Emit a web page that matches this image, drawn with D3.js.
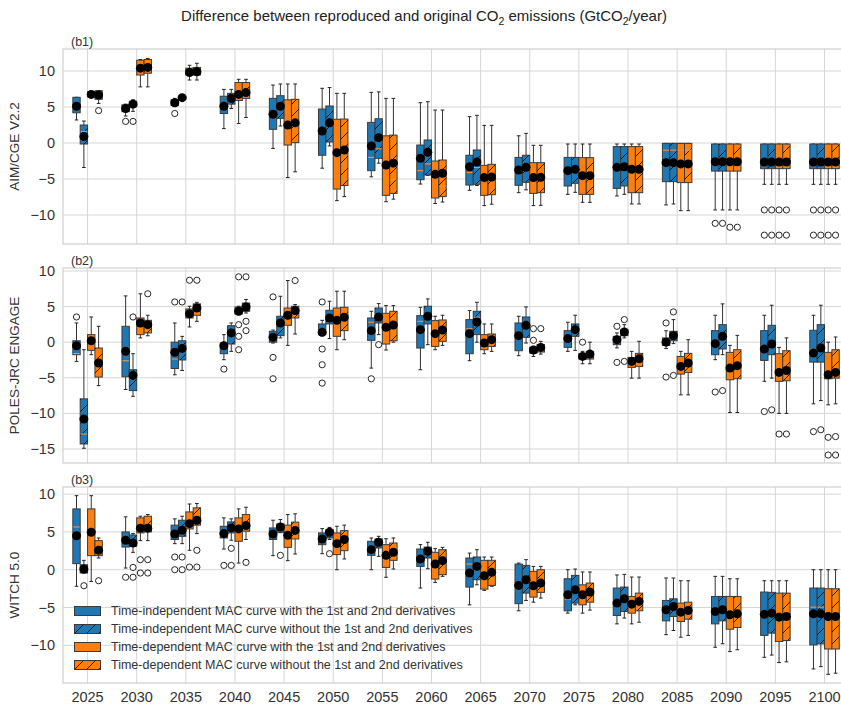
<!DOCTYPE html>
<html><head><meta charset="utf-8">
<script src="https://cdn.jsdelivr.net/npm/d3@7"></script>
<style>body{margin:0;background:#fff}svg{display:block;font-family:"Liberation Sans",Arial,sans-serif}</style>
</head><body><svg id="c" width="841" height="709"></svg>
<script>
// ---------- data ----------
const years = [2025,2030,2035,2040,2045,2050,2055,2060,2065,2070,2075,2080,2085,2090,2095,2100];
const legendLabels = [
  "Time-independent MAC curve with the 1st and 2nd derivatives",
  "Time-independent MAC curve without the 1st and 2nd derivatives",
  "Time-dependent MAC curve with the 1st and 2nd derivatives",
  "Time-dependent MAC curve without the 1st and 2nd derivatives"];
const panelLabels = ["(b1)","(b2)","(b3)"];
const modelNames = ["AIM/CGE V2.2","POLES-JRC ENGAGE","WITCH 5.0"];
const yTicksB1 = [-10,-5,0,5,10];
const yTicksB2 = [-15,-10,-5,0,5,10];
const yTicksB3 = [-10,-5,0,5,10];
// each entry: [whiskerLow, q1, median, q3, whiskerHigh, mean]
const b1_tiWith = [[3.2,4.2,5.3,6.35,6.35,5.1],[3.75,4.35,4.8,5.3,5.4,4.8],[5.1,5.2,5.6,6.0,6.2,5.6],[2.0,4.1,5.2,6.5,7.45,5.1],[-0.75,1.9,4.2,6.2,8.05,4.0],[-3.5,-1.7,1.8,4.72,7.6,1.67],[-4.7,-3.84,-2.0,2.87,7.04,-0.42],[-5.7,-5.1,-3.84,-0.28,5.6,-2.13],[-6.57,-5.84,-4.1,-1.7,3.66,-3.3],[-6.9,-5.88,-3.9,-2.0,1.0,-3.75],[-7.13,-5.97,-3.9,-2.0,-0.14,-3.84],[-7.36,-6.3,-3.4,-0.5,-0.14,-3.38],[-8.6,-5.37,-1.0,-0.05,-0.05,-2.73],[-9.3,-3.9,-2.5,-0.14,-0.14,-2.6],[-5.74,-3.56,-2.6,-0.14,-0.14,-2.64],[-5.74,-3.56,-2.6,-0.14,-0.14,-2.64]];
const b1_tiWithout = [[-3.4,-0.14,1.6,2.5,3.05,0.9],[4.4,5.05,5.4,5.8,6.0,5.4],[6.0,6.1,6.3,6.5,6.6,6.3],[4.8,5.4,6.2,6.9,7.45,6.2],[2.36,3.43,5.0,6.57,8.2,5.1],[-0.4,0.14,2.9,5.14,7.7,2.8],[-2.8,-2.13,-0.8,3.37,7.1,0.74],[-4.5,-4.44,-2.9,0.42,5.74,-1.3],[-5.9,-5.74,-3.4,-0.97,3.84,-2.64],[-6.5,-5.46,-3.5,-1.7,1.34,-3.38],[-6.85,-5.6,-3.7,-2.0,-0.14,-3.66],[-7.13,-5.97,-3.3,-0.5,-0.14,-3.3],[-8.47,-5.37,-1.0,-0.05,-0.05,-2.73],[-9.3,-3.9,-2.5,-0.14,-0.14,-2.6],[-5.74,-3.56,-2.6,-0.14,-0.14,-2.64],[-5.74,-3.56,-2.6,-0.14,-0.14,-2.64]];
const b1_tdWith = [[6.3,6.4,6.8,7.1,7.2,6.75],[7.8,9.45,10.5,11.5,11.6,10.4],[8.75,9.45,9.8,10.4,10.8,9.8],[2.7,5.9,7.0,8.4,8.85,6.75],[-4.8,-0.28,2.5,6.0,8.2,2.5],[-8.0,-6.4,-1.0,3.3,6.9,-1.34],[-8.15,-7.27,-3.0,1.0,6.2,-3.06],[-8.4,-7.64,-4.5,-2.5,4.58,-4.35],[-8.7,-7.27,-4.9,-3.1,2.45,-4.8],[-8.7,-7.0,-4.8,-2.73,-0.32,-4.8],[-8.24,-7.13,-4.5,-2.04,-0.14,-4.54],[-8.47,-6.9,-3.7,-0.5,-0.14,-3.66],[-9.4,-5.5,-1.0,-0.05,-0.05,-2.9],[-9.3,-3.9,-2.5,-0.14,-0.14,-2.6],[-5.74,-3.56,-2.6,-0.14,-0.14,-2.64],[-5.74,-3.56,-2.6,-0.14,-0.14,-2.64]];
const b1_tdWithout = [[5.5,6.07,6.7,7.26,7.3,6.67],[7.8,9.7,10.6,11.6,11.75,10.5],[8.75,9.45,9.9,10.5,11.07,9.9],[3.55,6.2,7.1,8.4,8.85,7.0],[-4.0,0.05,2.8,6.07,8.2,2.8],[-7.45,-5.9,-0.9,3.33,6.9,-0.97],[-7.8,-7.0,-5.1,1.1,6.2,-2.8],[-8.2,-7.45,-6.0,-2.36,4.58,-4.2],[-8.5,-7.18,-4.8,-2.96,2.45,-4.72],[-8.65,-6.9,-4.8,-2.73,-0.32,-4.77],[-8.24,-7.13,-4.5,-2.04,-0.14,-4.54],[-8.47,-6.9,-3.7,-0.5,-0.14,-3.66],[-9.4,-5.5,-1.0,-0.05,-0.05,-2.9],[-9.3,-3.9,-2.5,-0.14,-0.14,-2.6],[-5.74,-3.56,-2.6,-0.14,-0.14,-2.64],[-5.74,-3.56,-2.6,-0.14,-0.14,-2.64]];
const b1_tiWith_out = [[],[3.0],[4.1],[],[],[],[],[],[],[],[],[],[],[-11.16],[-9.3,-12.8],[-9.3,-12.8]];
const b1_tiWithout_out = [[],[3.0],[],[],[],[],[],[],[],[],[],[],[],[-11.16],[-9.3,-12.8],[-9.3,-12.8]];
const b1_tdWith_out = [[],[],[],[],[],[],[],[],[],[],[],[],[],[-11.7],[-9.3,-12.8],[-9.3,-12.8]];
const b1_tdWithout_out = [[4.5],[],[],[],[],[],[],[],[],[],[],[],[],[-11.7],[-9.3,-12.8],[-9.3,-12.8]];

const b2_tiWith = [[-2.7,-1.76,-1.6,0.2,2.7,-0.5],[-6.64,-4.86,-2.6,2.23,6.5,-1.29],[-4.58,-3.7,-2.37,0,2.7,-1.43],[-2.46,-1.62,-0.6,-0.12,1.06,-0.5],[-0.12,0,0.7,1.53,1.7,0.68],[0.9,1.06,1.5,2.56,3.07,1.38],[-3.64,0.26,2.8,3.4,4.34,1.62],[-3.87,-0.82,2.93,3.73,4.9,1.76],[-2.6,-1.62,1.9,3.17,4.44,1.2],[-1.9,-1.2,1.2,2.7,3.64,0.92],[-1.29,-0.73,0.6,1.62,2.8,0.5],[-0.8,-0.35,0.4,0.82,1.3,0.35],[-0.9,-0.45,0.1,0.6,1.6,0],[-2.46,-1.76,0,1.62,3.78,-0.21],[-5.5,-2.56,-0.5,1.62,3.78,-0.96],[-8.66,-2.8,-1.0,1.67,3.78,-1.53]];
const b2_tiWithout = [[-14.9,-14.3,-12.9,-7.96,-1.06,-10.8],[-7.6,-6.8,-5.0,-3.87,-1.62,-4.67],[-3.97,-2.5,-0.9,0.2,0.82,-0.87],[-1.29,-0.26,1.5,2.32,2.7,1.3],[0.6,0.92,2.7,3.64,6.45,2.7],[0.5,2.56,3.5,4.48,5.75,3.4],[1.06,2.7,3.6,4.8,5.42,3.54],[-0.35,2.56,3.7,5.05,6.08,3.64],[0,1.06,3.5,4.34,5.6,2.84],[-0.12,0.68,2.8,3.54,4.95,2.37],[-1.15,0.82,1.8,2.56,3.78,1.76],[0.6,0.92,1.4,1.76,2.46,1.43],[-0.2,0.2,1.0,1.53,3.17,0.92],[-1.76,-0.96,1.0,2.46,5.38,0.82],[-5.05,-1.76,0,2.37,5.19,-0.26],[-8.2,-2.8,-0.5,2.46,5.19,-0.82]];
const b2_tdWith = [[-1.76,-1.15,0.2,1.06,3.54,0.2],[0.6,1.06,2.7,3.4,6.8,2.7],[2.14,3.4,4.0,4.67,5.05,4.0],[3.87,3.97,4.4,4.95,5.05,4.34],[-0.45,2.37,3.8,4.8,8.66,3.78],[-1.06,0.82,3.1,4.8,7.16,3.07],[-1.1,-0.26,2.1,4.06,5.14,2.09],[-1.06,-0.59,1.2,3.03,3.64,1.2],[-1.62,-1.06,-0.1,1.06,2.56,-0.12],[-2.0,-1.53,-1.1,-0.73,-0.6,-1.1],[-3.03,-2.37,-2.0,-1.62,-1.29,-2.0],[-5.05,-3.54,-2.7,-2.14,-1.29,-2.7],[-7.4,-4.48,-3.4,-2.0,-1.29,-3.4],[-9.88,-5.28,-3.6,-1.43,-0.45,-3.64],[-10,-5.5,-4.2,-1.62,-0.73,-4.25],[-8.8,-5.14,-4.5,-1.43,0,-4.58]];
const b2_tdWithout = [[-6.1,-4.9,-2.9,-0.82,2.23,-2.93],[0.9,1.3,2.4,3.07,3.78,2.46],[2.93,3.78,4.8,5.38,5.6,4.8],[4.1,4.34,4.95,5.5,6.0,4.95],[1.15,3.4,4.4,5.05,5.28,4.44],[0.35,1.62,3.5,4.9,7.16,3.5],[0,0.2,2.4,4.34,5.14,2.42],[-0.45,0.12,1.7,3.12,3.78,1.71],[-1.29,-0.59,0.35,1.15,2.56,0.35],[-1.67,-1.38,-0.7,-0.35,0.12,-0.73],[-3.03,-2.37,-1.67,-1.29,0,-1.67],[-5.05,-3.4,-2.3,-1.57,0.12,-2.32],[-7.4,-4.25,-2.9,-1.57,0.35,-2.93],[-9.88,-5.14,-3.3,-1.06,0.96,-3.3],[-10,-5.42,-4.0,-1.2,0.6,-3.97],[-8.66,-5.05,-4.2,-1.06,0.73,-4.25]];
const b2_tiWith_out = [[3.54],[],[5.65],[-3.78],[6.36,-2.14,-5.14],[5.65,-0.96,-3.17,-5.75],[-5.14],[],[],[],[],[2.23,-2.84],[2.7,-4.9],[-7.0],[-9.74],[-12.56]];
const b2_tiWithout_out = [[],[3.54],[5.65],[],[],[],[-0.35],[],[],[],[],[3.17,-2.7],[4.25,-4.67],[-6.8],[-9.5],[-12.3]];
const b2_tdWith_out = [[],[],[8.7],[9.18,2.46,0.82,-1.06],[],[],[],[],[],[1.9,0.26],[0],[],[],[],[-12.9],[-13.36,-15.85]];
const b2_tdWithout_out = [[],[6.8],[8.7],[9.18,2.93,1.62],[8.66],[],[],[],[],[1.9],[],[],[],[],[-12.9],[-13.26,-15.85]];

const b3_tiWith = [[-2.2,0.8,5.66,8.05,9.8,4.5],[0.22,3.0,3.8,5.0,7.0,3.9],[3.45,4.0,4.7,5.9,6.73,4.73],[2.74,4.2,4.8,5.75,6.86,4.78],[1.86,4.0,4.8,5.53,6.55,4.73],[2.12,3.32,4.1,4.87,5.44,4.07],[0,1.9,2.7,3.76,4.2,2.65],[-2.43,0.44,1.86,2.74,3.32,1.42],[-4.65,-2.3,0.75,1.55,2.2,-0.44],[-5.44,-4.5,-2.0,0.75,0.88,-2.08],[-5.75,-5.44,-3.9,-1.2,0,-3.32],[-7.17,-6.06,-4.4,-2.43,-0.7,-4.42],[-8.6,-6.77,-5.3,-4.07,-1.1,-5.3],[-10.27,-7.17,-5.5,-3.54,-0.88,-5.53],[-11.6,-8.7,-5.5,-2.96,-1.46,-5.9],[-13.14,-9.96,-4.96,-2.43,0,-5.84]];
const b3_tiWithout = [[-0.44,-0.44,0.1,0.66,1.24,0.09],[2.3,3.1,3.6,4.6,4.78,3.54],[3.45,4.42,5.2,6.55,7.08,5.22],[3.9,4.87,5.5,6.33,6.73,5.53],[4.9,4.96,5.7,6.06,6.64,5.66],[4.0,4.2,5.0,5.3,5.6,4.96],[1.77,2.88,3.6,4.07,4.42,3.63],[0.13,1.55,2.4,3.0,3.63,2.43],[-2.0,-1.33,0.6,1.68,2.65,0.44],[-4.07,-3.1,-1.3,0.57,1.33,-1.33],[-4.65,-4.42,-2.7,-0.75,0.09,-2.65],[-6.4,-5.53,-3.8,-2.3,-0.62,-3.85],[-8.05,-6.2,-4.9,-3.85,-1.1,-4.87],[-9.8,-6.77,-5.3,-3.54,-0.88,-5.3],[-11.3,-8.4,-5.5,-3.0,-1.46,-5.75],[-12.83,-9.82,-4.96,-2.43,0,-5.84]];
const b3_tdWith = [[-1.55,1.86,5.0,8.05,9.8,4.96],[3.85,4.87,5.5,6.86,7.08,5.5],[2.57,5.4,6.1,7.65,8.7,6.1],[0.88,3.76,5.4,6.86,8.05,5.4],[1.2,2.96,4.5,5.9,7.3,4.56],[0,2.0,3.4,4.87,5.75,3.45],[-1.0,0.3,1.9,3.32,4.1,1.9],[-1.68,-1.24,0.8,2.3,2.79,0.75],[-2.74,-2.57,-0.8,1.24,1.68,-0.8],[-4.3,-3.63,-2.1,-0.22,0.44,-2.12],[-5.75,-4.65,-3.3,-2.0,-0.3,-3.32],[-7.17,-5.75,-4.5,-3.54,-0.97,-4.56],[-8.94,-6.86,-5.6,-4.42,-1.46,-5.62],[-10.84,-7.88,-6.0,-3.54,-1.2,-5.97],[-12.3,-9.5,-6.3,-3.1,-1.46,-6.28],[-13.85,-10.5,-6.2,-2.52,0,-6.2]];
const b3_tdWithout = [[1.55,1.86,2.6,3.85,4.2,2.57],[3.85,5.0,5.5,7.08,7.3,5.5],[4.78,5.9,6.5,8.19,8.76,6.55],[4.0,5.1,5.8,7.3,8.27,5.84],[2.08,4.07,5.2,6.3,7.4,5.2],[1.42,2.52,4.0,5.18,5.9,4.0],[0.09,1.24,2.3,3.54,4.2,2.3],[-0.88,-0.66,1.2,2.65,2.96,1.2],[-2.2,-2.08,-0.3,1.24,1.68,-0.35],[-3.76,-3.0,-1.8,0,0.44,-1.77],[-5.35,-4.3,-3.0,-1.77,-0.3,-2.96],[-6.95,-5.44,-4.2,-3.1,-0.97,-4.2],[-8.7,-6.55,-5.4,-4.3,-1.46,-5.4],[-10.6,-7.65,-5.8,-3.54,-1.2,-5.84],[-12.2,-9.38,-6.2,-3.1,-1.46,-6.2],[-13.7,-10.5,-6.2,-2.52,0,-6.2]];
const b3_tiWith_out = [[],[-1.0],[1.68,0],[0.57],[],[],[],[],[],[],[],[],[],[],[],[]];
const b3_tiWithout_out = [[-2.12],[0.3,-1.0],[1.68,0],[2.83,0.57],[1.9],[2.12],[],[],[],[],[],[],[],[],[],[]];
const b3_tdWith_out = [[],[1.33,-0.44],[0.35],[],[],[],[],[],[],[],[],[],[],[],[],[]];
const b3_tdWithout_out = [[-1.46],[1.33,-0.44],[2.57,0.35],[0.97],[],[],[],[],[],[],[],[],[],[],[],[]];

// ---------- layout ----------
const BLUE = "#1f77b4", ORANGE = "#ff7f0e";
const seriesFill = [BLUE, BLUE, ORANGE, ORANGE];
const seriesHatch = [false, true, false, true];
const panels = [
  {top:49, bottom:244, domain:[-14.03,13.06], ticks:yTicksB1, stats:[b1_tiWith,b1_tiWithout,b1_tdWith,b1_tdWithout], outs:[b1_tiWith_out,b1_tiWithout_out,b1_tdWith_out,b1_tdWithout_out]},
  {top:268, bottom:463, domain:[-16.97,10.42], ticks:yTicksB2, stats:[b2_tiWith,b2_tiWithout,b2_tdWith,b2_tdWithout], outs:[b2_tiWith_out,b2_tiWithout_out,b2_tdWith_out,b2_tdWithout_out]},
  {top:487, bottom:683, domain:[-15.0,10.95], ticks:yTicksB3, stats:[b3_tiWith,b3_tiWithout,b3_tdWith,b3_tdWithout], outs:[b3_tiWith_out,b3_tiWithout_out,b3_tdWith_out,b3_tdWithout_out]}
];
const L = 63, step = 49.13;
const x = d3.scaleLinear().domain([-0.5, years.length - 0.5]).range([L, L + step*years.length]);
const boxW = 0.15, offsets = [-0.225,-0.075,0.075,0.225];

const svg = d3.select("#c");
const defs = svg.append("defs");
const pat = defs.append("pattern").attr("id","hatch").attr("patternUnits","userSpaceOnUse")
  .attr("width",12).attr("height",12);
pat.append("path").attr("d","M-3,3 L3,-3 M0,12 L12,0 M9,15 L15,9").attr("stroke","#111").attr("stroke-width",0.9);

// title
const title = svg.append("text").attr("x",424).attr("y",21).attr("text-anchor","middle")
  .attr("font-size",15).attr("fill","#222");
title.append("tspan").text("Difference between reproduced and original CO");
title.append("tspan").attr("font-size",10.5).attr("dy",4).text("2");
title.append("tspan").attr("dy",-4).text(" emissions (GtCO");
title.append("tspan").attr("font-size",10.5).attr("dy",4).text("2");
title.append("tspan").attr("dy",-4).text("/year)");

panels.forEach((p, pi) => {
  const y = d3.scaleLinear().domain(p.domain).range([p.bottom, p.top]);
  const g = svg.append("g");
  const clipId = "clip"+pi;
  defs.append("clipPath").attr("id",clipId).append("rect")
    .attr("x",L).attr("y",p.top).attr("width",x.range()[1]-L).attr("height",p.bottom-p.top);
  // grid
  g.selectAll(".vg").data(years).join("line")
    .attr("x1",(d,i)=>x(i)).attr("x2",(d,i)=>x(i)).attr("y1",p.top).attr("y2",p.bottom)
    .attr("stroke","#d6d6d6").attr("stroke-width",1);
  g.selectAll(".hg").data(p.ticks).join("line")
    .attr("x1",L).attr("x2",x.range()[1]).attr("y1",d=>y(d)).attr("y2",d=>y(d))
    .attr("stroke","#d6d6d6").attr("stroke-width",1);
  // frame
  g.append("rect").attr("x",L).attr("y",p.top).attr("width",x.range()[1]-L).attr("height",p.bottom-p.top)
    .attr("fill","none").attr("stroke","#cfcfcf").attr("stroke-width",1.2);
  // y tick labels
  g.selectAll(".yt").data(p.ticks).join("text")
    .attr("x",55).attr("y",d=>y(d)).attr("dy","0.35em").attr("text-anchor","end")
    .attr("font-size",14.5).attr("fill","#333").text(d=>d<0?"\u2212"+Math.abs(d):d);
  // panel label
  g.append("text").attr("x",71).attr("y",p.top-3).attr("font-size",12.5).attr("fill","#333").text(panelLabels[pi]);
  // y axis title
  const cy = (p.top+p.bottom)/2;
  g.append("text").attr("transform",`translate(19,${cy}) rotate(-90)`).attr("text-anchor","middle")
    .attr("font-size",13.5).attr("fill","#333").text(modelNames[pi]);

  const pg = g.append("g").attr("clip-path",`url(#${clipId})`);
  // boxes
  p.stats.forEach((st, s) => {
    st.forEach((d, i) => {
      const [lo,q1,med,q3,hi] = d;
      const c = i + offsets[s];
      const x0 = x(c - boxW/2), x1 = x(c + boxW/2), xc = x(c);
      const capHalf = (x1-x0)/4;
      const bg = pg.append("g");
      bg.append("line").attr("x1",xc).attr("x2",xc).attr("y1",y(hi)).attr("y2",y(q3)).attr("stroke","#333").attr("stroke-width",1);
      bg.append("line").attr("x1",xc).attr("x2",xc).attr("y1",y(q1)).attr("y2",y(lo)).attr("stroke","#333").attr("stroke-width",1);
      bg.append("line").attr("x1",xc-capHalf).attr("x2",xc+capHalf).attr("y1",y(hi)).attr("y2",y(hi)).attr("stroke","#222").attr("stroke-width",1);
      bg.append("line").attr("x1",xc-capHalf).attr("x2",xc+capHalf).attr("y1",y(lo)).attr("y2",y(lo)).attr("stroke","#222").attr("stroke-width",1);
      bg.append("rect").attr("x",x0).attr("y",y(q3)).attr("width",x1-x0).attr("height",Math.max(0.5,y(q1)-y(q3)))
        .attr("fill",seriesFill[s]).attr("stroke","#3a3a3a").attr("stroke-width",1);
      if (seriesHatch[s]) {
        bg.append("rect").attr("x",x0).attr("y",y(q3)).attr("width",x1-x0).attr("height",Math.max(0.5,y(q1)-y(q3)))
          .attr("fill","url(#hatch)").attr("stroke","none");
      }
      bg.append("line").attr("x1",x0+0.5).attr("x2",x1-0.5).attr("y1",y(med)).attr("y2",y(med))
        .attr("stroke","#e8904a").attr("stroke-width",1.2);
    });
  });
  // means
  p.stats.forEach((st, s) => {
    pg.selectAll(null).data(st).join("circle")
      .attr("cx",(d,i)=>x(i+offsets[s])).attr("cy",d=>y(d[5])).attr("r",4.5).attr("fill","#000");
  });
  // outliers
  p.outs.forEach((os, s) => {
    os.forEach((vals, i) => {
      pg.selectAll(null).data(vals).join("circle")
        .attr("cx",x(i+offsets[s])).attr("cy",v=>y(v)).attr("r",3.1)
        .attr("fill","#fff").attr("stroke","#111").attr("stroke-width",0.9);
    });
  });
  // x tick labels on bottom panel
  if (pi === panels.length-1) {
    g.selectAll(".xt").data(years).join("text")
      .attr("x",(d,i)=>x(i)).attr("y",p.bottom+19).attr("text-anchor","middle")
      .attr("font-size",14.5).attr("fill","#333").text(d=>d);
    // legend
    const lg = g.append("g");
    legendLabels.forEach((lab, k) => {
      const cyL = 611 + k*18;
      lg.append("rect").attr("x",74.5).attr("y",cyL-4.5).attr("width",26).attr("height",9)
        .attr("fill",seriesFill[k]).attr("stroke","#3a3a3a").attr("stroke-width",1);
      if (seriesHatch[k]) lg.append("rect").attr("x",74.5).attr("y",cyL-4.5).attr("width",26).attr("height",9)
        .attr("fill","url(#hatch)");
      lg.append("text").attr("x",111).attr("y",cyL).attr("dy","0.35em").attr("font-size",12.5)
        .attr("fill","#333").text(lab);
    });
  }
});
</script></body></html>
